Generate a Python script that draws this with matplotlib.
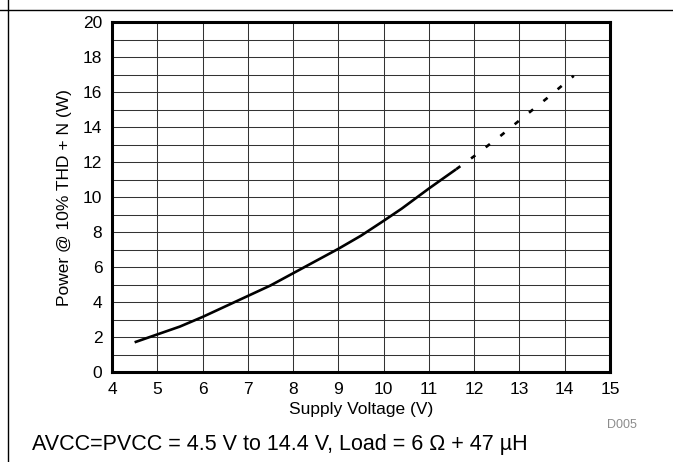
import matplotlib
matplotlib.use("Agg")
import matplotlib.pyplot as plt
from matplotlib.lines import Line2D

plt.rcParams['font.family'] = ['Liberation Sans', 'DejaVu Sans']

# measured curve (solid part)
volts_solid = [4.5, 5.0, 5.5, 6.0, 6.5, 7.0, 7.5, 8.0, 8.5, 9.0, 9.5, 10.0, 10.4, 11.0, 11.6]
power_solid = [1.7, 2.15, 2.6, 3.15, 3.75, 4.35, 4.95, 5.65, 6.35, 7.05, 7.8, 8.65, 9.35, 10.5, 11.6]

# extrapolated part (dotted)
volts_dot = [11.6, 12.0, 12.6, 13.0, 13.6, 14.2]
power_dot = [11.6, 12.35, 13.55, 14.4, 15.65, 16.95]

xticks = [4, 5, 6, 7, 8, 9, 10, 11, 12, 13, 14, 15]
yticks = [0, 2, 4, 6, 8, 10, 12, 14, 16, 18, 20]

fig = plt.figure(figsize=(6.73, 4.62), dpi=100)
ax = fig.add_axes([0.1664, 0.1948, 0.74, 0.7565])

ax.plot(volts_solid, power_solid, color='black', lw=1.9, solid_capstyle='butt')
ax.plot(volts_dot, power_dot, color='black', lw=1.9, dashes=(2.0, 5.0))

ax.set_xlim(4, 15)
ax.set_ylim(0, 20)
ax.set_xticks(xticks)
ax.set_yticks(yticks)
ax.set_xticks(range(4, 16), minor=True)
ax.set_yticks(range(0, 21), minor=True)
ax.grid(True, which='both', color='#333333', lw=0.75)
ax.set_axisbelow(True)
ax.tick_params(which='both', length=0, labelsize=12.5, pad=7)

for s in ax.spines.values():
    s.set_linewidth(2.2)

ax.set_xlabel('Supply Voltage (V)', fontsize=12.5, labelpad=4)
ax.set_ylabel('Power @ 10% THD + N (W)', fontsize=12.5, labelpad=8)

fig.text(0.947, 0.080, 'D005', fontsize=9, color='#8c8c8c', ha='right', va='center')
fig.text(0.047, 0.037, 'AVCC=PVCC = 4.5 V to 14.4 V, Load = 6 \u03a9 + 47 \u00b5H',
         fontsize=15.5, ha='left', va='center')

# frame lines of the page
fig.add_artist(Line2D([0.012, 0.012], [0, 1], transform=fig.transFigure, color='black', lw=1.0))
fig.add_artist(Line2D([0, 1], [0.979, 0.979], transform=fig.transFigure, color='black', lw=1.0))

fig.savefig('out.png', dpi=100)
